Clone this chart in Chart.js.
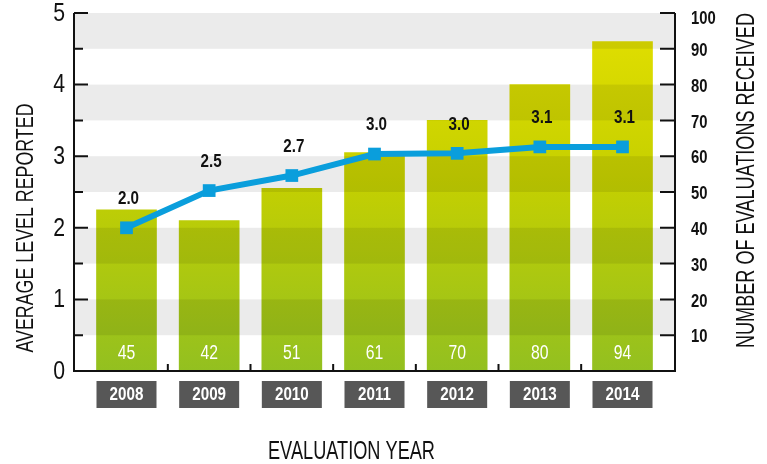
<!DOCTYPE html>
<html><head><meta charset="utf-8">
<script src="https://cdn.jsdelivr.net/npm/chart.js@4/dist/chart.umd.min.js"></script>
<style>html,body{margin:0;padding:0;background:#fff}#wrap{width:767px;height:464px}</style>
</head><body><div id="wrap"><canvas id="c" width="767" height="464"></canvas></div>
<script>
const years = ['2008','2009','2010','2011','2012','2013','2014'];
const averageLevel = [2.0, 2.52, 2.73, 3.03, 3.04, 3.13, 3.13];
const evaluationBars = [45, 42, 51, 61, 70, 80, 92];
const evaluationLabels = ['45','42','51','61','70','80','94'];
const leftTicks = [0,1,2,3,4,5];
const rightTicks = [10,20,30,40,50,60,70,80,90,100];

const FONT = '"Liberation Sans", Arial, sans-serif';

// draw horizontally condensed text (optionally fitted to a target width)
function condText(ctx, str, x, y, o) {
  ctx.save();
  ctx.font = (o.weight || 'normal') + ' ' + o.size + 'px ' + FONT;
  ctx.textAlign = o.align || 'center';
  ctx.textBaseline = o.baseline || 'middle';
  ctx.fillStyle = o.color || '#111';
  let sx = o.sx || 1;
  if (o.width) sx = o.width / ctx.measureText(str).width;
  ctx.translate(x, y);
  if (o.rotate) ctx.rotate(o.rotate);
  ctx.scale(sx, 1);
  ctx.fillText(str, 0, 0);
  ctx.restore();
}

const decor = {
  id: 'decor',
  afterDatasetDraw(chart, args) {
    if (args.index !== 1) return;
    const ctx = chart.ctx, ca = chart.chartArea, y = chart.scales.y;
    ctx.save();
    ctx.fillStyle = 'rgba(0,0,0,0.08)';
    for (let v = 0.5; v < 5; v += 1) {
      const t = y.getPixelForValue(v + 0.5), b = y.getPixelForValue(v);
      ctx.fillRect(ca.left, t, ca.right - ca.left, b - t);
    }
    ctx.restore();
  },
  afterDraw(chart) {
    const ctx = chart.ctx, ca = chart.chartArea;
    const x = chart.scales.x, y = chart.scales.y, y2 = chart.scales.y2;
    ctx.save();
    // bar labels
    const barMeta = chart.getDatasetMeta(1);
    barMeta.data.forEach((el, i) => condText(ctx, evaluationLabels[i], el.x, ca.bottom - 18,
      { size: 21, sx: 0.75, color: '#fff' }));
    // line labels
    const lineMeta = chart.getDatasetMeta(0);
    lineMeta.data.forEach((el, i) => condText(ctx, averageLevel[i].toFixed(1), el.x + 2, el.y - 29,
      { size: 19, weight: 'bold', sx: 0.8 }));
    // axes lines
    ctx.strokeStyle = '#111'; ctx.lineWidth = 2;
    ctx.beginPath();
    ctx.moveTo(ca.left, ca.top); ctx.lineTo(ca.left, ca.bottom); ctx.lineTo(ca.right, ca.bottom); ctx.lineTo(ca.right, ca.top);
    ctx.stroke();
    // ticks
    ctx.beginPath();
    for (let v = 0.5; v <= 5; v += 0.5) {
      const p = y.getPixelForValue(v);
      const len = Number.isInteger(v) ? 14 : 9;
      ctx.moveTo(ca.left, p); ctx.lineTo(ca.left + len, p);
    }
    rightTicks.forEach(v => { const p = y2.getPixelForValue(v); ctx.moveTo(ca.right, p); ctx.lineTo(ca.right - 15, p); });
    for (let i = 0; i < years.length - 1; i++) {
      const p = x.getPixelForValue(i + 0.5); ctx.moveTo(p, ca.bottom); ctx.lineTo(p, ca.bottom - 7);
    }
    ctx.stroke();
    // left tick labels
    leftTicks.forEach(v => condText(ctx, String(v), ca.left - 9, y.getPixelForValue(v) + 1,
      { size: 25, sx: 0.85, align: 'right' }));
    // right tick labels
    rightTicks.forEach(v => condText(ctx, String(v), ca.right + 16, Math.max(y2.getPixelForValue(v) + 2, 19),
      { size: 19, weight: 'bold', sx: 0.78, align: 'left' }));
    // category boxes
    years.forEach((yr, i) => {
      const cx = x.getPixelForValue(i);
      ctx.fillStyle = '#575757'; ctx.fillRect(cx - 30, ca.bottom + 10, 60, 27);
      condText(ctx, yr, cx, ca.bottom + 24, { size: 19, weight: 'bold', sx: 0.8, color: '#fff' });
    });
    // titles
    condText(ctx, 'EVALUATION YEAR', 351.5, 459, { size: 26, width: 167, baseline: 'alphabetic' });
    condText(ctx, 'AVERAGE LEVEL REPORTED', 33, 228, { size: 24, width: 249, baseline: 'alphabetic', rotate: -Math.PI / 2 });
    condText(ctx, 'NUMBER OF EVALUATIONS RECEIVED', 754, 180.5, { size: 26, width: 335, baseline: 'alphabetic', rotate: -Math.PI / 2 });
    ctx.restore();
  }
};

new Chart(document.getElementById('c'), {
  type: 'bar',
  data: {
    datasets: [
      {
        type: 'line', label: 'Average level', yAxisID: 'y', order: 0,
        data: years.map((yr, i) => ({ x: i, y: averageLevel[i] })),
        borderColor: '#0a9edc', backgroundColor: '#0a9edc', borderWidth: 6,
        pointStyle: 'rect', pointRadius: 9, pointBorderWidth: 0, pointHoverRadius: 9, tension: 0
      },
      {
        type: 'bar', label: 'Evaluations', yAxisID: 'y2', order: 1,
        data: years.map((yr, i) => ({ x: i, y: evaluationBars[i] })),
        barThickness: 60,
        backgroundColor: (c) => {
          const ca = c.chart.chartArea;
          if (!ca) return '#c0d000';
          const g = c.chart.ctx.createLinearGradient(0, ca.top, 0, ca.bottom);
          g.addColorStop(0, '#e4e000');
          g.addColorStop(0.45, '#c6d000');
          g.addColorStop(1, '#93c020');
          return g;
        },
        borderWidth: 0
      }
    ]
  },
  options: {
    responsive: false, animation: false, devicePixelRatio: 1,
    layout: { padding: { left: 74, right: 92, top: 13, bottom: 93 } },
    plugins: { legend: { display: false }, tooltip: { enabled: false } },
    scales: {
      x: { type: 'linear', min: -0.635, max: 6.635, offset: false, display: false },
      y: { min: 0, max: 5, display: false },
      y2: { min: 0, max: 100, display: false, position: 'right' }
    }
  },
  plugins: [decor]
});
</script></body></html>
